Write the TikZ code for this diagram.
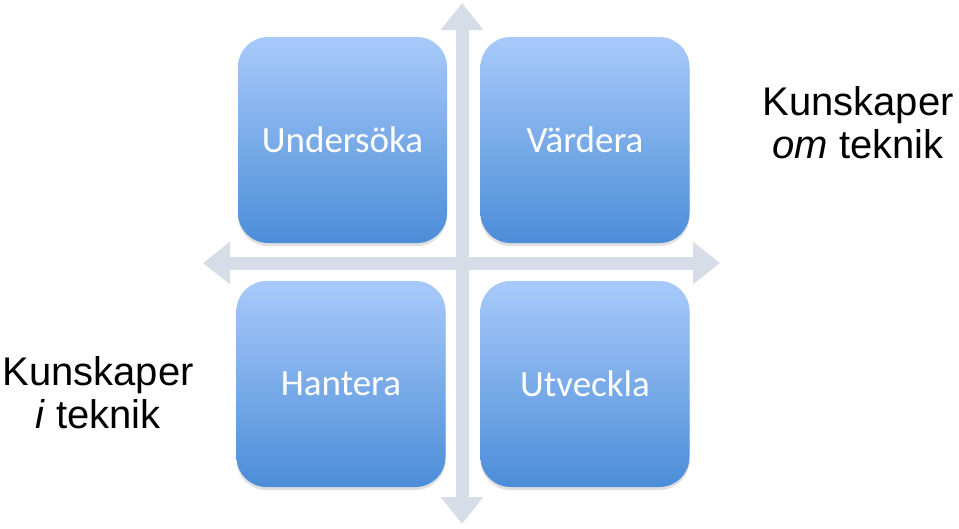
\documentclass[tikz,border=0pt]{standalone}
\usepackage{fontspec}
\setmainfont{Liberation Sans}
\newfontfamily\boxfont{Carlito}
\usepackage{xcolor}
\usepackage{tikz}
\usetikzlibrary{arrows.meta, positioning, shadows}

\definecolor{boxtop}{RGB}{168,202,250}
\definecolor{boxbottom}{RGB}{76,141,216}
\definecolor{axisgray}{RGB}{214,221,233}

\begin{document}
\begin{tikzpicture}[x=1pt, y=-1pt,
    block/.style={rectangle, rounded corners=30pt, top color=boxtop, bottom color=boxbottom, draw=none, minimum width=209pt, minimum height=206pt, text=white, font=\boxfont\fontsize{37}{40}\selectfont, drop shadow={opacity=0.25, shadow xshift=0pt, shadow yshift=-3pt}},
    axis/.style={draw=axisgray, line width=13pt, {Triangle[length=27pt, width=41pt]}-{Triangle[length=27pt, width=41pt]}},
    label/.style={align=center, inner sep=0pt, font=\fontsize{40}{43}\selectfont}]
    
    \useasboundingbox (0,0) rectangle (959,528);
    
    \coordinate (west) at (203,263);
    \coordinate (east) at (720,263);
    \coordinate (north) at (462,3);
    \coordinate (south) at (462,524);
    \path [axis] (west) -- (east);
    \path [axis] (north) -- (south);
    
    \node [block] (undersoka) at (342.5,140) {Undersöka};
    \node [block] (vardera) at (585,140) {Värdera};
    \node [block] (hantera) at (341,384) {Hantera};
    \node [block] (utveckla) at (585,384) {Utveckla};
    
    \node [label] (om) at (858,123) {Kunskaper\\\textit{om} teknik};
    \node [label] (i) at (98,393) {Kunskaper\\\textit{i} teknik};
\end{tikzpicture}
\end{document}
